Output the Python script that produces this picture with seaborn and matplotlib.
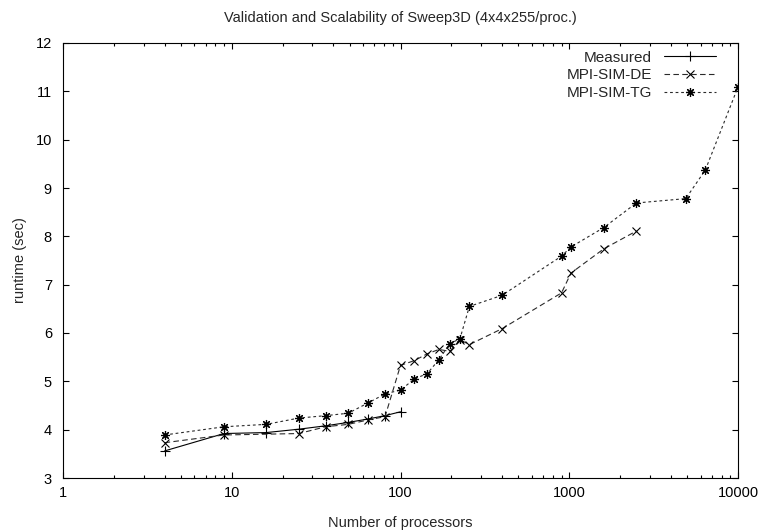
import matplotlib
matplotlib.use("Agg")
import matplotlib.pyplot as plt
import pandas as pd
import seaborn as sns

title = "Validation and Scalability of Sweep3D (4x4x255/proc.)"
x_label = "Number of processors"
y_label = "runtime (sec)"
x_ticks = [1, 10, 100, 1000, 10000]
x_tick_labels = ["1", "10", "100", "1000", "10000"]
y_ticks = [3, 4, 5, 6, 7, 8, 9, 10, 11, 12]

measured_procs = [4, 9, 16, 25, 36, 49, 64, 81, 100]
measured_time = [3.56, 3.92, 3.94, 4.01, 4.08, 4.15, 4.22, 4.29, 4.37]

de_procs = [4, 9, 25, 36, 49, 64, 81, 100, 121, 144, 169, 196, 225, 256,
            400, 900, 1024, 1600, 2500]
de_time = [3.73, 3.89, 3.92, 4.06, 4.11, 4.20, 4.27, 5.33, 5.43, 5.57, 5.66,
           5.62, 5.86, 5.76, 6.09, 6.83, 7.24, 7.74, 8.11]

tg_procs = [4, 9, 16, 25, 36, 49, 64, 81, 100, 121, 144, 169, 196, 225, 256,
            400, 900, 1024, 1600, 2500, 4900, 6400, 10000]
tg_time = [3.89, 4.06, 4.11, 4.24, 4.29, 4.34, 4.55, 4.74, 4.82, 5.05, 5.16,
           5.45, 5.78, 5.88, 6.55, 6.78, 7.59, 7.78, 8.18, 8.69, 8.78, 9.37,
           11.09]

series_names = ["Measured", "MPI-SIM-DE", "MPI-SIM-TG"]

sns.set_theme(style="ticks")
plt.rcParams["font.family"] = ["Liberation Sans", "DejaVu Sans"]
plt.rcParams["font.size"] = 10.5

fig = plt.figure(figsize=(7.62, 5.30), dpi=100)
ax = fig.add_axes([63 / 762, 1 - 478 / 530, 675 / 762, 435 / 530])

df_m = pd.DataFrame({"procs": measured_procs, "time": measured_time})
df_de = pd.DataFrame({"procs": de_procs, "time": de_time})
df_tg = pd.DataFrame({"procs": tg_procs, "time": tg_time})

sns.lineplot(data=df_m, x="procs", y="time", ax=ax, color="black",
             linewidth=0.8, marker="+", markersize=7, markeredgewidth=0.8,
             markeredgecolor="black",
             label=series_names[0], legend=False)
sns.lineplot(data=df_de, x="procs", y="time", ax=ax, color="#2a2a2a",
             linewidth=0.8, marker="x", markersize=5.5, markeredgewidth=0.8,
             markeredgecolor="black",
             dashes=(5, 3), label=series_names[1], legend=False)
sns.lineplot(data=df_tg, x="procs", y="time", ax=ax, color="#2a2a2a",
             linewidth=0.8, marker=(8, 2, 0), markersize=6.5,
             markeredgewidth=0.85, markeredgecolor="black",
             dashes=(2.5, 2.5),
             label=series_names[2], legend=False)

ax.set_xscale("log")
ax.set_xlim(1, 10000)
ax.set_ylim(3, 12)
ax.set_xticks(x_ticks, labels=x_tick_labels)
ax.set_yticks(y_ticks)
ax.minorticks_on()
ax.yaxis.set_minor_locator(matplotlib.ticker.NullLocator())

for s in ax.spines.values():
    s.set_visible(True)
    s.set_linewidth(0.8)
    s.set_color("black")

ax.tick_params(which="both", direction="in", top=True, right=True,
               colors="black", width=0.8, labelsize=10.5)
ax.tick_params(which="major", length=4.5)
ax.tick_params(which="minor", length=2.5)
ax.tick_params(axis="y", which="major", pad=8)
ax.tick_params(axis="x", which="major", pad=6)

ax.set_title(title, fontsize=10.5, pad=15)
ax.set_xlabel(x_label, fontsize=10.5, labelpad=11)
ax.set_ylabel(y_label, fontsize=10.5, labelpad=6)

ax.legend(loc="upper right", bbox_to_anchor=(0.982, 1.005), frameon=False,
          markerfirst=False, handlelength=3.4, handletextpad=0.8,
          labelspacing=0.24, fontsize=11, borderaxespad=0.25)

fig.savefig("out.png", dpi=100)
